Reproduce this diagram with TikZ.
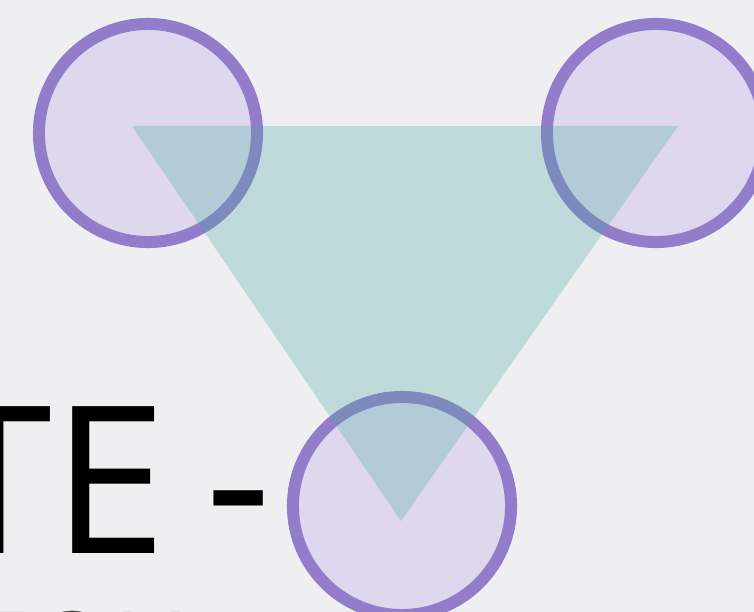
\documentclass[tikz,border=0pt]{standalone}
\usepackage{fontspec}
\setmainfont{Open Sans}
\usepackage{tikz}
\usetikzlibrary{positioning}
\definecolor{bgpage}{HTML}{EFEFF1}
\definecolor{ringline}{HTML}{937CC9}
\definecolor{ringfill}{HTML}{DFD7EE}
\definecolor{triteal}{RGB}{80,172,165}
\definecolor{subgray}{HTML}{4A4A4A}

\begin{document}
\begin{tikzpicture}[
    x=0.01cm, y=-0.01cm,
    ring/.style={circle, draw=ringline, fill=ringfill, line width=3.41pt, minimum size=2.18cm, inner sep=0pt},
    tri/.style={fill=triteal, fill opacity=0.3},
    bigtxt/.style={font=\fontsize{58.5}{60}\selectfont, inner sep=0pt, text=black},
    subtxt/.style={font=\fontsize{29.9}{32}\selectfont, inner sep=0pt, text=subgray}
]
\useasboundingbox (0,0) rectangle (754,612);
\fill[bgpage] (0,0) rectangle (754,612);
\clip (0,0) rectangle (754,612);

% title lines
\node[bigtxt, anchor=base west] (line1) at (-62,553) {TE \kern-4.3pt-};
\node[subtxt, anchor=base west] (line2) at (-28,687) {EOU};

% three rings
\node[ring] (ringa) at (148,133) {};
\node[ring] (ringb) at (656,133) {};
\node[ring] (ringc) at (402,506) {};

% triangle on top
\coordinate (ta) at (132,126);
\coordinate (tb) at (678,126);
\coordinate (tc) at (401,521);
\fill[tri] (ta) -- (tb) -- (tc) -- cycle;
\end{tikzpicture}
\end{document}
